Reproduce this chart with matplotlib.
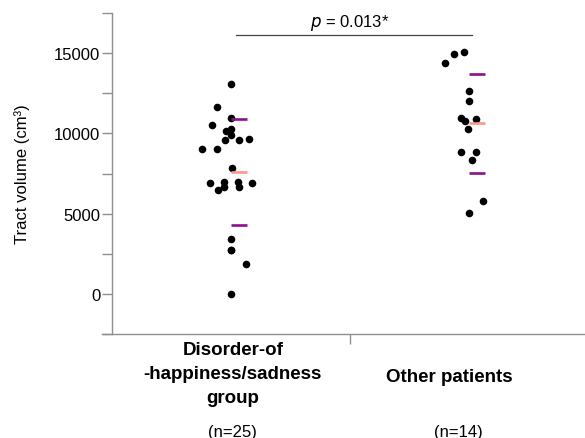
import numpy as np
import matplotlib
matplotlib.use('Agg')
import matplotlib.pyplot as plt
from matplotlib.transforms import blended_transform_factory

plt.rcParams['font.family'] = ['Liberation Sans', 'DejaVu Sans']

# Values (tract volume, cm3)
group_names = ['Disorder-of\n-happiness/sadness\ngroup', 'Other patients']
group_n = ['(n=25)', '(n=14)']
group_pos = [0.5, 1.5]

dh_volume = [13070, 11660, 10930, 10500, 10270, 10140, 9900, 9650, 9560, 9560,
             9030, 9030, 7860, 6950, 6950, 6930, 6930, 6680, 6680, 6450,
             3400, 2740, 2740, 1890, 20]
dh_jitter = [0.0, -0.058, 0.0, -0.080, 0.0, -0.022, 0.0, 0.074, -0.027, 0.032,
             -0.122, -0.061, 0.006, -0.028, 0.031, -0.090, 0.089, -0.031, 0.032, -0.055,
             0.0, 0.0, 0.0, 0.062, 0.0]

other_volume = [14360, 14940, 15040, 12650, 12010, 10930, 10750, 10910, 10250,
                8820, 8820, 8360, 5770, 5020]
other_jitter = [-0.100, -0.061, -0.021, 0.0, 0.0, -0.031, -0.014, 0.031, -0.003,
                -0.031, 0.031, 0.013, 0.060, 0.001]

p_text = '$p$ = 0.013*'

groups = [(dh_volume, dh_jitter), (other_volume, other_jitter)]

fig = plt.figure(figsize=(5.85, 4.39), dpi=100)
ax = fig.add_axes([0.1744, 0.2369, 0.8256, 0.7312])

axis_grey = '#8f8f8f'

for pos, (vals, jit) in zip(group_pos, groups):
    vals = np.array(vals, dtype=float)
    ax.scatter(pos + np.array(jit), vals, s=30, color='black', linewidths=0, zorder=3)
    m = vals.mean()
    sd = vals.std(ddof=1)
    # mean (salmon) and +/- SD (purple) markers, drawn right of the column
    ax.hlines([m - sd, m + sd], pos, pos + 0.068, colors='#8e0f8a', lw=1.9, zorder=4)
    ax.hlines(m, pos, pos + 0.068, colors='#f59a86', lw=1.9, zorder=4)

# significance bar
ax.plot([0.52, 1.515], [16130, 16130], color='#444444', lw=0.9)
ax.text(1.0, 16330, p_text, ha='center', va='bottom', fontsize=12)

ax.set_xlim(-0.043, 1.99)
ax.set_ylim(-2500, 17500)

for s in ['top', 'right']:
    ax.spines[s].set_visible(False)
ax.spines['left'].set_position(('data', 0))
for s in ['left', 'bottom']:
    ax.spines[s].set_color(axis_grey)
    ax.spines[s].set_linewidth(1.0)

ax.set_yticks([0, 5000, 10000, 15000])
ax.set_yticks([-2500, 2500, 7500, 12500, 17500], minor=True)
ax.set_xticks([1.0])
ax.set_xticklabels([''])
ax.tick_params(axis='both', which='both', direction='out', length=7, width=1.0,
               color=axis_grey, labelsize=12, labelcolor='black', pad=1.5)

ax.set_ylabel('Tract volume (cm³)', fontsize=12)
ax.yaxis.set_label_coords(-0.15, 0.5)

# group labels under the axis
trans = blended_transform_factory(ax.transData, fig.transFigure)
ax.text(0.508, 0.222, group_names[0], transform=trans, ha='center', va='top',
        fontsize=13.5, fontweight='bold', linespacing=1.55, multialignment='center')
ax.text(1.42, 0.129, group_names[1], transform=trans, ha='center', va='baseline',
        fontsize=13.5, fontweight='bold')
ax.text(0.505, 0.005, group_n[0], transform=trans, ha='center', va='baseline', fontsize=12)
ax.text(1.455, 0.005, group_n[1], transform=trans, ha='center', va='baseline', fontsize=12)

plt.savefig('out.png', dpi=100)
